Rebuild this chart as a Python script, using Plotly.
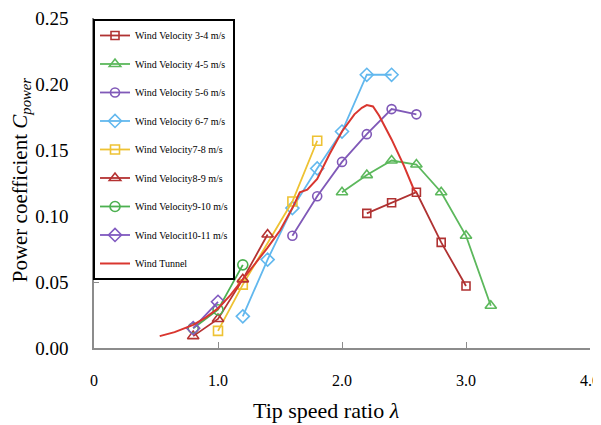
import plotly.graph_objects as go

# ---- data ----
x_34 = [2.2, 2.4, 2.6, 2.8, 3.0]
y_34 = [0.102, 0.110, 0.118, 0.080, 0.047]

x_45 = [2.0, 2.2, 2.4, 2.6, 2.8, 3.0, 3.2]
y_45 = [0.118, 0.131, 0.142, 0.139, 0.118, 0.085, 0.032]

x_56 = [1.6, 1.8, 2.0, 2.2, 2.4, 2.6]
y_56 = [0.085, 0.115, 0.141, 0.162, 0.181, 0.177]

x_67 = [1.2, 1.4, 1.6, 1.8, 2.0, 2.2, 2.4]
y_67 = [0.024, 0.067, 0.106, 0.136, 0.164, 0.207, 0.207]

x_78 = [1.0, 1.2, 1.6, 1.8]
y_78 = [0.013, 0.048, 0.111, 0.157]

x_89 = [0.8, 1.0, 1.2, 1.4]
y_89 = [0.009, 0.022, 0.052, 0.086]

x_910 = [0.8, 1.0, 1.2]
y_910 = [0.015, 0.029, 0.063]

x_1011 = [0.8, 1.0]
y_1011 = [0.015, 0.035]

x_tunnel = [0.53, 0.65, 0.80, 0.90, 1.00, 1.10, 1.20, 1.30, 1.40, 1.50, 1.60,
            1.66, 1.72, 1.80, 1.90, 2.00, 2.10, 2.16, 2.20, 2.25, 2.30, 2.40,
            2.50, 2.58, 2.60]
y_tunnel = [0.009, 0.012, 0.0175, 0.023, 0.030, 0.040, 0.052, 0.064, 0.076,
            0.089, 0.106, 0.118, 0.120, 0.128, 0.147, 0.164, 0.177, 0.182,
            0.184, 0.183, 0.176, 0.158, 0.138, 0.120, 0.118]

x_tickvals = [0, 1, 2, 3, 4]
x_ticktext = ["0", "1.0", "2.0", "3.0", "4.0"]
y_tickvals = [0, 0.05, 0.10, 0.15, 0.20, 0.25]
y_ticktext = ["0.00", "0.05", "0.10", "0.15", "0.20", "0.25"]

series = [
    ("Wind Velocity 3-4 m/s", x_34, y_34, "#b03232", "square-open", 8),
    ("Wind Velocity 4-5 m/s", x_45, y_45, "#5cb85c", "triangle-up-open", 10),
    ("Wind Velocity 5-6 m/s", x_56, y_56, "#8059b8", "circle-open", 9),
    ("Wind Velocity 6-7 m/s", x_67, y_67, "#62b8ee", "diamond-open", 10),
    ("Wind Velocity7-8 m/s", x_78, y_78, "#eec233", "square-open", 9),
    ("Wind Velocity8-9 m/s", x_89, y_89, "#b53232", "triangle-up-open", 10),
    ("Wind Velocity9-10 m/s", x_910, y_910, "#4cb050", "circle-open", 10),
    ("Wind Velocit10-11 m/s", x_1011, y_1011, "#8059c0", "diamond-open", 10),
]

FONT = "Liberation Serif"

fig = go.Figure()
for i, (name, xs, ys, col, sym, sz) in enumerate(series):
    fig.add_trace(go.Scatter(
        x=xs, y=ys, name=name, mode="lines+markers", legendgroup=f"g{i}",
        line=dict(color=col, width=1.8),
        marker=dict(symbol=sym, size=sz, color=col, line=dict(width=1.6, color=col)),
    ))
fig.add_trace(go.Scatter(
    x=x_tunnel, y=y_tunnel, name="Wind Tunnel", mode="lines", legendgroup="g9",
    line=dict(color="#d9362f", width=2),
))

fig.update_layout(
    width=593, height=417,
    margin=dict(l=86, r=11, t=10, b=77, autoexpand=False),
    paper_bgcolor="white", plot_bgcolor="white",
    font=dict(family=FONT, color="black"),
    showlegend=True,
    legend=dict(
        x=-0.002, y=0.997, xanchor="left", yanchor="top",
        bgcolor="white", bordercolor="black", borderwidth=2,
        font=dict(family=FONT, size=10, color="black"),
        tracegroupgap=9.5, itemwidth=30,
    ),
    xaxis=dict(
        range=[0, 4], tickvals=x_tickvals, ticktext=x_ticktext, automargin=False,
        showgrid=False, zeroline=False, showline=True, linecolor="#8c8c8c", linewidth=1.5,
        ticks="inside", ticklen=6, tickcolor="#8c8c8c",
        tickfont=dict(family=FONT, size=16, color="black"),
        ticklabelstandoff=17, ticklabeloverflow="allow",
    ),
    yaxis=dict(
        range=[0, 0.25], tickvals=y_tickvals, ticktext=y_ticktext, automargin=False,
        showgrid=False, zeroline=False, showline=True, linecolor="#8c8c8c", linewidth=1.5,
        ticks="inside", ticklen=5, tickcolor="#8c8c8c",
        tickfont=dict(family=FONT, size=19, color="black"),
        ticklabelstandoff=20, ticklabeloverflow="allow",
    ),
    annotations=[
        dict(text="Power coefficient <i>C<sub>power</sub></i>", textangle=-90,
             xref="paper", yref="paper", x=-0.148, y=0.51, xanchor="center", yanchor="middle",
             showarrow=False, font=dict(family=FONT, size=21, color="black")),
        dict(text="Tip speed ratio <i>λ</i>",
             xref="paper", yref="paper", x=0.468, y=-0.19, xanchor="center", yanchor="middle",
             showarrow=False, font=dict(family=FONT, size=22, color="black")),
    ],
)

fig.write_html("out.html")
